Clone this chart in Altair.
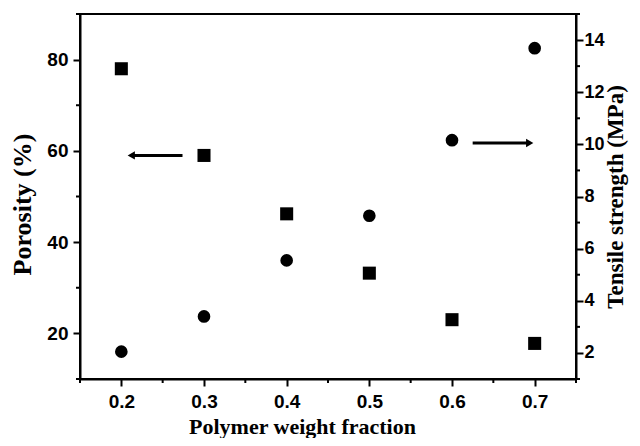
import altair as alt
import pandas as pd

# ---- data ----
fraction = [0.2, 0.3, 0.4, 0.5, 0.6, 0.7]
porosity = [78.0, 59.0, 46.2, 33.2, 23.0, 17.8]
tensile = [2.05, 3.4, 5.55, 7.26, 10.16, 13.69]

x_ticks = [0.2, 0.3, 0.4, 0.5, 0.6, 0.7]
x_minor = [0.15, 0.25, 0.35, 0.45, 0.55, 0.65, 0.75]
left_ticks = [20, 40, 60, 80]
left_minor = [10, 30, 50, 70, 90]
right_ticks = [2, 4, 6, 8, 10, 12, 14]
right_minor = [1, 3, 5, 7, 9, 11, 13, 15]

# arrows (annotation): start x, end x, level
left_arrow = [0.274, 0.212, 59.0]
right_arrow = [0.625, 0.694, 10.05]

W, H = 496, 365
LABEL_FONT = "Liberation Sans"
TITLE_FONT = "Liberation Serif"

df_p = pd.DataFrame({"x": fraction, "y": porosity})
df_t = pd.DataFrame({"x": fraction, "y": tensile})
df_xm = pd.DataFrame({"x": x_minor})
df_lm = pd.DataFrame({"y": left_minor})
df_rm = pd.DataFrame({"y": right_minor})
df_la = pd.DataFrame({"x": [left_arrow[0]], "x2": [left_arrow[1]], "y": [left_arrow[2]]})
df_ra = pd.DataFrame({"x": [right_arrow[0]], "x2": [right_arrow[1]], "y": [right_arrow[2]]})

xscale = alt.Scale(domain=[0.15, 0.75], nice=False, zero=False)
xaxis = alt.Axis(values=x_ticks, format=".1f", title="Polymer weight fraction",
                 titleFontSize=22, titlePadding=5, labelPadding=6, titleX=222)
X = alt.X("x:Q", scale=xscale, axis=xaxis)

lscale = alt.Scale(domain=[10, 90], nice=False, zero=False)
laxis = alt.Axis(values=left_ticks, title="Porosity (%)", orient="left",
                 titleFontSize=26, titlePadding=11, labelPadding=5, titleY=190)
YL = alt.Y("y:Q", scale=lscale, axis=laxis)

rscale = alt.Scale(domain=[1, 15], nice=False, zero=False)
raxis = alt.Axis(values=right_ticks, title="Tensile strength (MPa)", orient="right",
                 titleAngle=270, titleBaseline="top", titleFontSize=23,
                 titlePadding=0, labelPadding=1, labelFontSize=18)
YR = alt.Y("y:Q", scale=rscale, axis=raxis)

squares = alt.Chart(df_p).mark_point(shape="square", filled=True, size=170,
                                     color="black", opacity=1).encode(x=X, y=YL)
la_shaft = alt.Chart(df_la).mark_rule(color="black", strokeWidth=3).encode(
    x=X, x2="x2:Q", y=YL)
la_head = alt.Chart(df_la).mark_point(shape="triangle-left", filled=True, size=70,
                                      color="black", opacity=1).encode(
    x=alt.X("x2:Q", scale=xscale, axis=xaxis), y=YL)
lminor = alt.Chart(df_lm).mark_rule(color="black", strokeWidth=2).encode(
    y=YL, x=alt.value(-4), x2=alt.value(0))
xminor = alt.Chart(df_xm).mark_rule(color="black", strokeWidth=2).encode(
    x=X, y=alt.value(H), y2=alt.value(H + 4))

left = alt.layer(squares, la_shaft, la_head, lminor, xminor)

circles = alt.Chart(df_t).mark_point(shape="circle", filled=True, size=160,
                                     color="black", opacity=1).encode(x=X, y=YR)
ra_shaft = alt.Chart(df_ra).mark_rule(color="black", strokeWidth=3).encode(
    x=X, x2="x2:Q", y=YR)
ra_head = alt.Chart(df_ra).mark_point(shape="triangle-right", filled=True, size=70,
                                      color="black", opacity=1).encode(
    x=alt.X("x2:Q", scale=xscale, axis=xaxis), y=YR)
rminor = alt.Chart(df_rm).mark_rule(color="black", strokeWidth=2).encode(
    y=YR, x=alt.value(W), x2=alt.value(W + 4))

right = alt.layer(circles, ra_shaft, ra_head, rminor)

chart = alt.layer(left, right).resolve_scale(y="independent").properties(
    width=W, height=H,
    background="white",
    autosize=alt.AutoSizeParams(type="none"),
    padding={"left": 72, "top": 6, "right": 56, "bottom": 59},
).configure_view(
    stroke="black", strokeWidth=2
).configure_axis(
    grid=False,
    domainColor="black", domainWidth=2,
    tickColor="black", tickWidth=2, tickSize=7,
    labelFont=LABEL_FONT, labelFontWeight="bold", labelFontSize=19, labelColor="black",
    titleFont=TITLE_FONT, titleFontWeight="bold", titleColor="black",
)

chart.save("out.html", embed_options={"renderer": "svg", "actions": False})
